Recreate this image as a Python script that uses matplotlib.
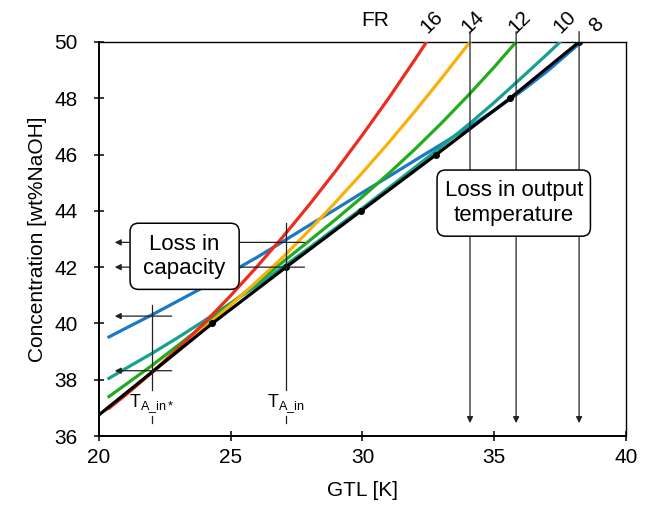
import matplotlib
matplotlib.use("Agg")
import matplotlib.pyplot as plt
from matplotlib.patches import FancyBboxPatch

plt.rcParams['font.family'] = ['Liberation Sans', 'DejaVu Sans']

# GTL [K] vs concentration [wt% NaOH] for each curve
red_x = [20.4, 21, 22, 23, 24, 25, 26, 27, 28, 29, 30, 31, 32, 32.43]
red_y = [37.0, 37.45, 38.25, 39.11, 40.02, 40.99, 42.02, 43.1, 44.24, 45.44,
         46.7, 48.01, 49.39, 50.0]
orange_x = [20.3, 21, 22, 23, 24, 25, 26, 27, 28, 29, 30, 31, 32, 33, 34.08]
orange_y = [36.95, 37.45, 38.25, 39.02, 39.85, 40.65, 41.5, 42.37, 43.33, 44.33,
            45.36, 46.43, 47.55, 48.71, 50.0]
green_x = [20.38, 21, 22, 23, 24, 25, 26, 27, 28, 29, 30, 31, 32, 33, 34, 35, 35.83]
green_y = [37.4, 37.82, 38.5, 39.22, 39.95, 40.7, 41.45, 42.2, 42.95, 43.71,
           44.5, 45.33, 46.2, 47.12, 48.09, 49.11, 50.0]
teal_x = [20.38, 21, 22, 23, 24, 25, 26, 27, 28, 29, 30, 31, 32, 33, 34, 35, 36,
          37, 37.5]
teal_y = [38.05, 38.39, 38.93, 39.5, 40.1, 40.72, 41.35, 42.02, 42.7, 43.4,
          44.1, 44.82, 45.55, 46.29, 47.05, 47.85, 48.7, 49.56, 50.0]
blue_x = [20.38, 21, 22, 23, 24, 25, 26, 27, 28, 29, 30, 31, 32, 33, 34, 35, 36,
          37, 38.2]
blue_y = [39.52, 39.82, 40.3, 40.8, 41.3, 41.82, 42.35, 42.92, 43.5, 44.07,
          44.65, 45.22, 45.8, 46.37, 46.95, 47.57, 48.23, 48.95, 49.92]
black_x = [20, 24.3, 27.1, 29.95, 32.8, 35.6, 38.22]
black_y = [36.75, 40, 42, 44, 46, 48, 50]

fr_labels = ['16', '14', '12', '10', '8']
fr_pos = [(32.62, 50.72), (34.19, 50.71), (35.98, 50.71), (37.69, 50.71), (38.89, 50.6)]

out_x = [34.08, 35.83, 38.22]          # loss in output temperature arrows
cap_y = [42.88, 42.0, 40.26, 38.32]    # loss in capacity arrows
cap_from = [27.8, 27.8, 22.76, 22.76]
t_in = [22.0, 27.1]
t_top = [40.65, 43.56]
t_names = [r'T$_{\mathregular{A\_in*}}$', r'T$_{\mathregular{A\_in}}$']

fig = plt.figure(figsize=(6.51, 5.09), dpi=100)
ax = fig.add_axes([0.152, 0.1434, 0.8096, 0.7741])

lw = 2.3
ax.plot(blue_x, blue_y, color='#1b78c4', lw=lw, zorder=3)
ax.plot(teal_x, teal_y, color='#17a08e', lw=lw, zorder=3)
ax.plot(green_x, green_y, color='#22ab1c', lw=lw, zorder=3)
ax.plot(orange_x, orange_y, color='#fbb008', lw=lw, zorder=3)
ax.plot(red_x, red_y, color='#ee2b1f', lw=lw, zorder=3)
ax.plot(black_x, black_y, color='black', lw=lw, zorder=4)
ax.plot(black_x[1:], black_y[1:], 'o', color='black', ms=4, zorder=4)

ax.set_xlim(20, 40)
ax.set_ylim(36, 50)
ax.set_xticks([20, 25, 30, 35, 40])
ax.set_yticks([36, 38, 40, 42, 44, 46, 48, 50])
ax.tick_params(axis='both', direction='inout', length=7, width=1.1, labelsize=15)
ax.tick_params(axis='x', pad=5)
ax.tick_params(axis='y', pad=12)
for s in ['left', 'bottom']:
    ax.spines[s].set_linewidth(1.4)
for s in ['top', 'right']:
    ax.spines[s].set_linewidth(1.0)
ax.set_xlabel('GTL [K]', fontsize=15, labelpad=10)
ax.set_ylabel('Concentration [wt%NaOH]', fontsize=15, labelpad=5)

# FR labels along the top
ax.text(30.47, 50.78, 'FR', fontsize=15, ha='center', va='center')
for lab, (x, y) in zip(fr_labels, fr_pos):
    ax.text(x, y, lab, fontsize=15, rotation=45, ha='center', va='center')

arr = dict(arrowstyle='-|>', lw=0.9, color='#222222', mutation_scale=9,
           shrinkA=0, shrinkB=0)

# loss in output temperature
for x in out_x:
    ax.annotate('', xy=(x, 36.46), xytext=(x, 50.37), arrowprops=arr,
                annotation_clip=False, zorder=5)
box = FancyBboxPatch((32.83, 43.1), 5.82, 2.35,
                     boxstyle='round,pad=0,rounding_size=0.32',
                     mutation_aspect=0.94, fc='white', ec='black', lw=1.1, zorder=6)
ax.add_patch(box)
ax.text(35.74, 44.28, 'Loss in output\ntemperature', fontsize=16, ha='center',
        va='center', linespacing=1.2, zorder=7)

# loss in capacity
for y, x0 in zip(cap_y, cap_from):
    ax.annotate('', xy=(20.6, y), xytext=(x0, y), arrowprops=arr, zorder=5)
for x, top in zip(t_in, t_top):
    ax.plot([x, x], [37.63, top], color='#222222', lw=0.9, zorder=5)
    ax.plot([x, x], [36.46, 36.71], color='#222222', lw=0.9, zorder=5)
for x, name in zip(t_in, t_names):
    ax.text(x, 37.14, name, fontsize=13, ha='center', va='center')
box = FancyBboxPatch((21.18, 41.21), 4.14, 2.35,
                     boxstyle='round,pad=0,rounding_size=0.32',
                     mutation_aspect=0.94, fc='white', ec='black', lw=1.1, zorder=6)
ax.add_patch(box)
ax.text(23.25, 42.38, 'Loss in\ncapacity', fontsize=16, ha='center',
        va='center', linespacing=1.2, zorder=7)

fig.savefig('out.png', dpi=100)
